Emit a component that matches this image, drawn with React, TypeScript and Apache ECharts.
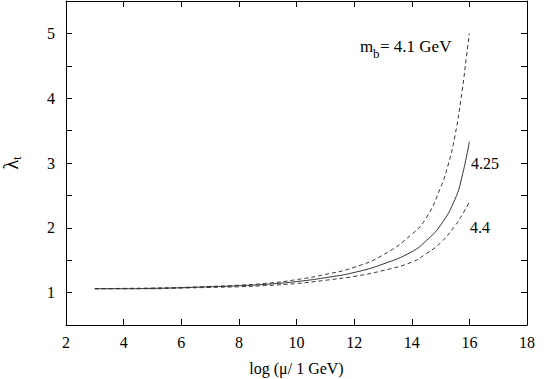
import React, { useEffect, useRef } from "react";
import * as echarts from "echarts";

const FONT = "Liberation Serif";

const xTop = [3, 4, 5, 6, 7, 8, 9, 10, 11, 12, 13, 14, 14.5, 15, 15.25, 15.5, 15.75, 15.9, 16];
const yTop = [1.06, 1.065, 1.07, 1.08, 1.095, 1.115, 1.145, 1.2, 1.28, 1.39, 1.58, 1.9, 2.15, 2.62, 2.95, 3.42, 4.12, 4.65, 5.0];

const xMid = [3, 4, 5, 6, 7, 8, 9, 10, 11, 12, 13, 14, 14.5, 15, 15.5, 15.75, 16];
const yMid = [1.06, 1.06, 1.065, 1.075, 1.09, 1.105, 1.13, 1.17, 1.23, 1.31, 1.44, 1.63, 1.8, 2.04, 2.44, 2.8, 3.33];

const xLow = [3, 4, 5, 6, 7, 8, 9, 10, 11, 12, 13, 14, 14.5, 15, 15.5, 15.75, 16];
const yLow = [1.06, 1.06, 1.06, 1.07, 1.08, 1.09, 1.11, 1.14, 1.19, 1.25, 1.34, 1.47, 1.6, 1.77, 2.03, 2.2, 2.4];

const xTicks = { min: 2, max: 18, interval: 2 };
const yTicks = { min: 0.5, max: 5.5, interval: 0.5 };

const labelTop = "= 4.1 GeV";
const labelMid = "4.25";
const labelLow = "4.4";

const zip = (xs: number[], ys: number[]) => xs.map((x, i) => [x, ys[i]]);

export default function App() {
  const ref = useRef<HTMLDivElement>(null);
  useEffect(() => {
    if (!ref.current) return;
    const chart = echarts.init(ref.current, null, { renderer: "svg" });
    const axisLine = { show: true, onZero: false, lineStyle: { color: "#000", width: 1 } };
    const tick = { show: true, inside: true, length: 6, lineStyle: { color: "#000", width: 1 } };
    const lineCol = "#333";
    const common = { smooth: 0.5, showSymbol: false };
    chart.setOption({
      animation: false,
      backgroundColor: "#fff",
      grid: { left: 66, right: 27, top: 1, bottom: 54, containLabel: false, outerBoundsMode: "none" },
      xAxis: [
        {
          type: "value",
          position: "bottom",
          ...xTicks,
          axisLine,
          axisTick: tick,
          splitLine: { show: false },
          axisLabel: { color: "#000", fontSize: 16, fontFamily: FONT, margin: 9 },
          name: "log (μ/ 1 GeV)",
          nameLocation: "middle",
          nameGap: 35,
          nameTextStyle: { color: "#000", fontSize: 16, fontFamily: FONT },
        },
        {
          type: "value",
          position: "top",
          ...xTicks,
          axisLine,
          axisTick: tick,
          splitLine: { show: false },
          axisLabel: { show: false },
        },
      ],
      yAxis: [
        {
          type: "value",
          position: "left",
          ...yTicks,
          axisLine,
          axisTick: tick,
          splitLine: { show: false },
          axisLabel: {
            color: "#000",
            fontSize: 16,
            fontFamily: FONT,
            margin: 11,
            formatter: (v: number) => (Math.abs(v - Math.round(v)) < 1e-6 ? String(Math.round(v)) : ""),
          },
          name: "{l|λ}{s|t}",
          nameLocation: "middle",
          nameGap: 43,
          nameTextStyle: {
            color: "#000",
            fontFamily: FONT,
            rich: {
              l: { fontSize: 20, fontFamily: FONT, color: "#000", verticalAlign: "top", lineHeight: 22 },
              s: { fontSize: 12, fontFamily: FONT, color: "#000", verticalAlign: "bottom", lineHeight: 22 },
            },
          },
        },
        {
          type: "value",
          position: "right",
          ...yTicks,
          axisLine,
          axisTick: tick,
          splitLine: { show: false },
          axisLabel: { show: false },
        },
      ],
      series: [
        {
          type: "line",
          data: zip(xTop, yTop),
          ...common,
          lineStyle: { color: lineCol, width: 1, type: [4, 3] },
        },
        {
          type: "line",
          data: zip(xMid, yMid),
          ...common,
          lineStyle: { color: lineCol, width: 1, type: "solid" },
        },
        {
          type: "line",
          data: zip(xLow, yLow),
          ...common,
          lineStyle: { color: lineCol, width: 1, type: [4, 3] },
        },
      ],
      graphic: [
        {
          type: "text",
          x: 360,
          y: 46,
          style: { text: "m", font: `17px ${FONT}`, fill: "#000", verticalAlign: "middle" },
        },
        {
          type: "text",
          x: 373,
          y: 53,
          style: { text: "b", font: `13px ${FONT}`, fill: "#000", verticalAlign: "middle" },
        },
        {
          type: "text",
          x: 380,
          y: 46,
          style: { text: labelTop, font: `17px ${FONT}`, fill: "#000", verticalAlign: "middle" },
        },
        {
          type: "text",
          x: 471,
          y: 163,
          style: { text: labelMid, font: `16px ${FONT}`, fill: "#000", verticalAlign: "middle" },
        },
        {
          type: "text",
          x: 470,
          y: 227,
          style: { text: labelLow, font: `16px ${FONT}`, fill: "#000", verticalAlign: "middle" },
        },
      ],
    });
    return () => chart.dispose();
  }, []);
  return (
    <div
      ref={ref}
      style={{ position: "absolute", left: 0, top: 0, width: 554, height: 379 }}
    />
  );
}
